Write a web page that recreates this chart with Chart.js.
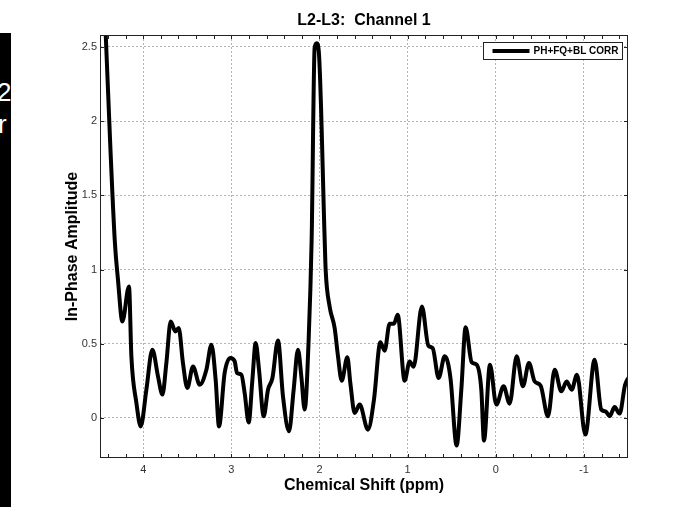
<!DOCTYPE html>
<html>
<head>
<meta charset="utf-8">
<script src="https://cdn.jsdelivr.net/npm/chart.js@4.4.0/dist/chart.umd.min.js"></script>
<style>
  html, body { margin: 0; padding: 0; background: #fff; }
  #wrap { position: relative; width: 681px; height: 512px; }
  #spectrum { position: absolute; left: 0; top: 0; }
  #slideEdge {
    position: absolute; left: 0; top: 33px; width: 11px; height: 474px;
    background: #000; overflow: hidden; color: #fff;
    font-family: "Liberation Sans", Arial, sans-serif; font-size: 26px; line-height: 26px;
  }
  #slideEdge span { position: absolute; white-space: nowrap; }
</style>
</head>
<body>
<div id="wrap">
  <canvas id="spectrum" width="681" height="512"></canvas>
  <div id="slideEdge"><span style="left:-3px;top:46px">2</span><span style="left:-2px;top:78px">r</span></div>
</div>
<script>
// spectrum, left to right (high ppm -> low ppm)
const ppm = [
  4.437, 4.323, 4.286, 4.236, 4.161, 4.134, 4.077, 4.028, 3.964, 3.896,
  3.832, 3.782, 3.737, 3.688, 3.635, 3.597, 3.549, 3.499, 3.435, 3.359,
  3.283, 3.226, 3.178, 3.140, 3.076, 3.011, 2.962, 2.936, 2.886, 2.849,
  2.803, 2.761, 2.724, 2.686, 2.633, 2.584, 2.534, 2.471, 2.414, 2.346,
  2.293, 2.244, 2.206, 2.168, 2.123, 2.089, 2.055, 2.032, 2.009, 1.941,
  1.930, 1.885, 1.828, 1.790, 1.748, 1.684, 1.650, 1.601, 1.544, 1.450,
  1.382, 1.309, 1.261, 1.204, 1.155, 1.113, 1.034, 0.977, 0.932, 0.838,
  0.765, 0.716, 0.648, 0.580, 0.546, 0.512, 0.444, 0.391, 0.342, 0.274,
  0.217, 0.164, 0.134, 0.066, -0.006, -0.089, -0.157, -0.237, -0.308, -0.376,
  -0.441, -0.509, -0.592, -0.668, -0.744, -0.804, -0.861, -0.921, -1.016, -1.121,
  -1.197, -1.246, -1.292, -1.348, -1.405, -1.467, -1.518
]
const amplitude = [
  2.75, 1.200, 0.931, 0.650, 0.886, 0.415, 0.101, -0.057, 0.190, 0.460,
  0.280, 0.157, 0.370, 0.650, 0.583, 0.606, 0.370, 0.202, 0.347, 0.224,
  0.325, 0.493, 0.258, -0.057, 0.303, 0.404, 0.381, 0.303, 0.291, 0.168,
  -0.030, 0.258, 0.505, 0.325, 0.011, 0.190, 0.269, 0.522, 0.145, -0.090,
  0.190, 0.460, 0.280, 0.056, 0.527, 1.200, 2.492, 2.524, 2.478, 1.200,
  0.998, 0.751, 0.606, 0.415, 0.251, 0.409, 0.236, 0.034, 0.090, -0.079,
  0.123, 0.510, 0.453, 0.635, 0.635, 0.695, 0.251, 0.381, 0.345, 0.751,
  0.487, 0.471, 0.269, 0.415, 0.379, 0.258, -0.186, 0.190, 0.611, 0.376,
  0.359, 0.190, -0.153, 0.359, 0.090, 0.213, 0.096, 0.415, 0.213, 0.370,
  0.246, 0.217, 0.011, 0.325, 0.179, 0.246, 0.190, 0.291, -0.112, 0.392,
  0.056, 0.044, 0.011, 0.073, 0.029, 0.224, 0.281
]

const seriesLabel = 'PH+FQ+BL CORR'
const xTicks = [4, 3, 2, 1, 0, -1]          // labelled ppm ticks
const yTicks = [0, 0.5, 1, 1.5, 2, 2.5]
const xMinorStep = 0.2

Chart.defaults.font.family = '"Liberation Sans", Arial, Helvetica, sans-serif'

// matlab style box, inward ticks and legend
const axesBox = {
  id: 'axesBox',
  afterDraw(chart) {
    const ctx = chart.ctx
    const a = chart.chartArea
    const x = chart.scales.x
    const y = chart.scales.y
    ctx.save()
    ctx.strokeStyle = '#222'
    ctx.lineWidth = 1
    ctx.strokeRect(Math.round(a.left) + 0.5, Math.round(a.top) + 0.5,
      Math.round(a.right - a.left) - 1, Math.round(a.bottom - a.top) - 1)

    ctx.beginPath()
    x.ticks.forEach(t => {
      const px = Math.round(x.getPixelForValue(t.value)) + 0.5
      ctx.moveTo(px, a.bottom); ctx.lineTo(px, a.bottom - 4)
      ctx.moveTo(px, a.top); ctx.lineTo(px, a.top + 4)
    })
    y.ticks.forEach(t => {
      const py = Math.round(y.getPixelForValue(t.value)) + 0.5
      ctx.moveTo(a.left, py); ctx.lineTo(a.left + 4, py)
      ctx.moveTo(a.right, py); ctx.lineTo(a.right - 4, py)
    })
    ctx.stroke()

    // legend
    const ds = chart.data.datasets[0]
    const bx = Math.round(a.right) - 144.5
    const by = Math.round(a.top) + 7.5
    ctx.fillStyle = '#fff'
    ctx.fillRect(bx, by, 139, 17)
    ctx.strokeStyle = '#222'
    ctx.strokeRect(bx, by, 139, 17)
    ctx.strokeStyle = ds.borderColor
    ctx.lineWidth = ds.borderWidth
    ctx.beginPath()
    ctx.moveTo(bx + 9, by + 8.5)
    ctx.lineTo(bx + 46, by + 8.5)
    ctx.stroke()
    ctx.fillStyle = '#000'
    ctx.font = 'bold 10px "Liberation Sans", Arial, sans-serif'
    ctx.textBaseline = 'middle'
    ctx.fillText(ds.label, bx + 50, by + 9)
    ctx.restore()
  }
}

const points = ppm.map((v, i) => ({ x: v, y: amplitude[i] }))

const isMajor = v => xTicks.some(t => Math.abs(t - v) < 1e-6)

const config = {
  type: 'line',
  data: {
    datasets: [{
      label: seriesLabel,
      data: points,
      borderColor: '#000',
      borderWidth: 4,
      pointRadius: 0,
      fill: false,
      cubicInterpolationMode: 'monotone'
    }]
  },
  options: {
    responsive: false,
    animation: false,
    layout: { padding: { left: 0, right: 53, top: 0, bottom: 0 } },
    plugins: {
      legend: { display: false },
      tooltip: { enabled: false },
      title: {
        display: true,
        text: 'L2-L3:  Channel 1',
        fullSize: false,
        color: '#000',
        font: { size: 16, weight: 'bold' },
        padding: { top: 11.4, bottom: 4.4 }
      }
    },
    scales: {
      x: {
        type: 'linear',
        reverse: true,
        min: -1.5,
        max: 4.49,
        afterFit: s => { s.height = 54 },
        afterBuildTicks: s => {
          const list = []
          for (let v = -1.4; v <= 4.41; v += xMinorStep) list.push({ value: Math.round(v * 10) / 10 })
          s.ticks = list
        },
        ticks: {
          autoSkip: false,
          maxRotation: 0,
          padding: 5,
          color: '#333',
          font: { size: 11 },
          callback: v => isMajor(v) ? String(Math.round(v)) : ''
        },
        grid: {
          drawTicks: false,
          color: c => isMajor(c.tick.value) ? '#b4b4b4' : 'rgba(0,0,0,0)'
        },
        border: { display: false, dash: [2, 2] },
        title: {
          display: true,
          text: 'Chemical Shift (ppm)',
          color: '#000',
          font: { size: 16, weight: 'bold' },
          padding: { top: 0, bottom: 16.4 }
        }
      },
      y: {
        min: -0.27,
        max: 2.58,
        afterFit: s => { s.width = 100 },
        afterBuildTicks: s => { s.ticks = yTicks.map(v => ({ value: v })) },
        ticks: {
          padding: 3,
          color: '#333',
          font: { size: 11 },
          callback: v => String(Math.round(v * 10) / 10)
        },
        grid: { drawTicks: false, color: '#b4b4b4' },
        border: { display: false, dash: [2, 2] },
        title: {
          display: true,
          text: 'In-Phase Amplitude',
          color: '#000',
          font: { size: 16, weight: 'bold' },
          padding: { top: 63.4, bottom: 0 }
        }
      }
    }
  },
  plugins: [axesBox]
}

const spectrumChart = new Chart(document.getElementById('spectrum'), config)
</script>
</body>
</html>
